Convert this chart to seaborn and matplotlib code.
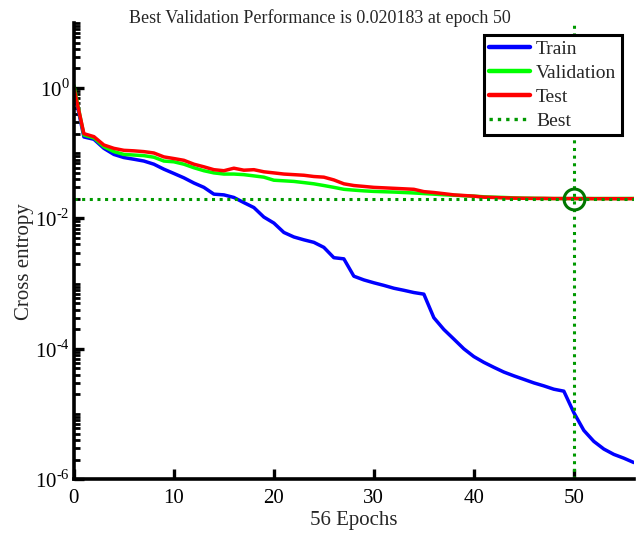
import numpy as np
import pandas as pd
import matplotlib
matplotlib.use("Agg")
import matplotlib.pyplot as plt
import matplotlib.ticker as mticker
from matplotlib.lines import Line2D
import seaborn as sns

# per-epoch cross entropy
epochs = list(range(57))
train = [0.95, 0.178, 0.164, 0.119, 0.096, 0.086, 0.081, 0.076, 0.068, 0.057,
         0.049, 0.042, 0.035, 0.030, 0.0236, 0.0230, 0.021, 0.0175, 0.0147, 0.0105,
         0.0085, 0.0061, 0.0052, 0.0047, 0.0043, 0.0036, 0.0025, 0.0024, 0.0013, 0.00114,
         0.00103, 0.00094, 0.00085, 0.00079, 0.00073, 0.00069, 0.00030, 0.000198, 0.000141, 0.000100,
         7.6e-5, 6.2e-5, 5.2e-5, 4.4e-5, 3.85e-5, 3.4e-5, 3.0e-5, 2.7e-5, 2.4e-5, 2.24e-5,
         1.05e-5, 5.6e-6, 3.8e-6, 2.9e-6, 2.4e-6, 2.1e-6, 1.8e-6]
validation = [1.1, 0.19, 0.172, 0.126, 0.106, 0.096, 0.094, 0.092, 0.087, 0.076,
              0.074, 0.068, 0.060, 0.054, 0.050, 0.048, 0.048, 0.047, 0.045, 0.043,
              0.0386, 0.0378, 0.037, 0.0355, 0.034, 0.032, 0.030, 0.028, 0.0272, 0.0265,
              0.026, 0.0257, 0.0254, 0.025, 0.0246, 0.0241, 0.0236, 0.0231, 0.0227, 0.0223,
              0.022, 0.0215, 0.0212, 0.021, 0.0207, 0.0205, 0.0204, 0.0203, 0.0202, 0.02019,
              0.020183, 0.0202, 0.02021, 0.02022, 0.02023, 0.02024, 0.02025]
test = [1.0, 0.2, 0.18, 0.134, 0.119, 0.111, 0.109, 0.106, 0.101, 0.088,
        0.083, 0.078, 0.068, 0.062, 0.056, 0.054, 0.059, 0.055, 0.056, 0.052,
        0.050, 0.048, 0.047, 0.046, 0.044, 0.043, 0.039, 0.034, 0.032, 0.031,
        0.030, 0.0295, 0.029, 0.0285, 0.028, 0.0258, 0.025, 0.024, 0.023, 0.0225,
        0.022, 0.0212, 0.021, 0.0207, 0.0205, 0.0204, 0.0203, 0.0203, 0.0202, 0.0202,
        0.0202, 0.0202, 0.0201, 0.0201, 0.0201, 0.0201, 0.0201]

best_epoch = 50
best_perf = 0.020183

series_names = ["Train", "Validation", "Test"]
series_colors = ["#0000ff", "#00ff00", "#ff0000"]
best_color = "#009900"
circle_color = "#007700"

x_ticks = [0, 10, 20, 30, 40, 50]
y_ticks = [1e-6, 1e-4, 1e-2, 1e0]

df = pd.DataFrame({
    "epoch": epochs * 3,
    "value": train + validation + test,
    "set": sum([[n] * len(epochs) for n in series_names], []),
})

sns.set_style("ticks")
plt.rcParams["font.family"] = ["Liberation Serif", "DejaVu Serif"]
plt.rcParams["mathtext.fontset"] = "custom"
plt.rcParams["mathtext.rm"] = "Liberation Serif"

fig = plt.figure(figsize=(6.37, 5.33), dpi=100)
ax = fig.add_axes([0.116, 0.101, 0.879, 0.856])

sns.lineplot(data=df, x="epoch", y="value", hue="set", hue_order=series_names,
             palette=dict(zip(series_names, series_colors)), linewidth=2.5,
             legend=False, ax=ax)

ax.axhline(best_perf, color=best_color, linestyle=(0, (1, 1.5)), linewidth=2.2)
ax.axvline(best_epoch, color=best_color, linestyle=(0, (1, 1.5)), linewidth=2.2)
ax.plot([best_epoch], [best_perf], marker="o", markersize=15, markerfacecolor="none",
        markeredgecolor=circle_color, markeredgewidth=2.2)


def decade_label(v, pos):
    # MATLAB-style exponent with a short hyphen
    n = int(round(np.log10(v)))
    return r"$10^{\text{-}%d}$" % -n if n < 0 else r"$10^{%d}$" % n


ax.set_yscale("log")
ax.set_xlim(0, 56)
ax.set_ylim(1e-6, 1e1)
ax.set_xticks(x_ticks)
ax.yaxis.set_major_locator(mticker.FixedLocator(y_ticks))
ax.yaxis.set_major_formatter(mticker.FuncFormatter(decade_label))
ax.yaxis.set_minor_locator(mticker.LogLocator(base=10, subs=np.arange(1, 10), numticks=100))
ax.yaxis.set_minor_formatter(mticker.NullFormatter())

sns.despine(ax=ax)
for side in ["left", "bottom"]:
    ax.spines[side].set_linewidth(2.6)
    ax.spines[side].set_color("black")
ax.tick_params(axis="both", which="major", direction="in", length=7, width=2.4,
               labelsize=15, colors="black")
ax.tick_params(axis="x", which="major", pad=7)
ax.tick_params(axis="y", which="major", pad=3)
ax.tick_params(axis="y", which="minor", direction="in", length=4, width=2.0, colors="black")

# explicit y keeps matplotlib from auto-lifting the title
ax.set_title("Best Validation Performance is 0.020183 at epoch 50", fontsize=13,
             x=0.44, y=1.0, pad=0)
ax.set_xlabel("56 Epochs", fontsize=15, labelpad=2)
ax.set_ylabel("Cross entropy", fontsize=15)
ax.yaxis.set_label_coords(-0.071, 0.476)

handles = [Line2D([], [], color=c, linewidth=3.2) for c in series_colors]
handles.append(Line2D([], [], color=best_color, linestyle=(0, (1, 1.5)), linewidth=2.4))
leg = ax.legend(handles, series_names + ["Best"], loc="upper right", fontsize=14,
                frameon=True, fancybox=False, framealpha=1, edgecolor="black",
                handlelength=2.1, handletextpad=0.3, labelspacing=0.32,
                borderpad=0.3, borderaxespad=0.6)
leg.get_frame().set_linewidth(2.2)

fig.savefig("out.png", dpi=100)
